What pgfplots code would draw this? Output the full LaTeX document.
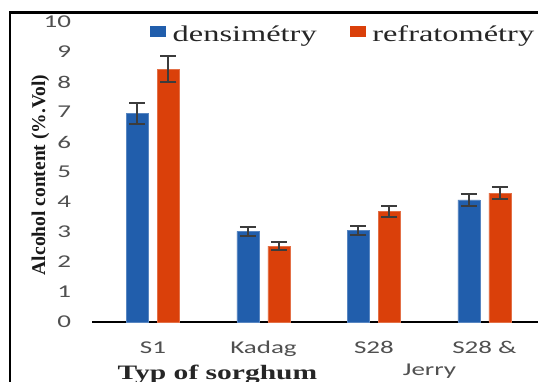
\documentclass[border=0pt]{standalone}
\usepackage{fontspec}
\usepackage{pgfplots}
\pgfplotsset{compat=1.18}
\newfontfamily\tickfont[FakeStretch=1.5]{Carlito}
\newfontfamily\legfont[FakeStretch=1.44]{Liberation Serif}
\newfontfamily\yfont{Liberation Serif}
\definecolor{cblue}{RGB}{33,94,172}
\definecolor{corange}{RGB}{218,64,10}
\definecolor{errc}{RGB}{60,60,60}
\definecolor{tickc}{RGB}{80,80,80}
\begin{document}
\begin{tikzpicture}[x=1pt,y=1pt]
\useasboundingbox (0,0) rectangle (538,381);
\fill[white] (0,0) rectangle (538,381);
\draw[line width=2.5pt] (10,-3) -- (10,368.5) -- (541,368.5);
\begin{axis}[
  at={(92.2pt,59pt)}, anchor=south west,
  scale only axis, width=447.5pt, height=300pt,
  xmin=-0.55, xmax=3.5, ymin=0, ymax=10,
  ybar=9pt, bar width=22pt,
  xtick={0,1,2,3}, xticklabels={S1,Kadag,S28,S28 \&},
  ytick={0,1,...,10},
  axis lines*=left,
  x axis line style={line width=2pt,-},
  y axis line style={draw=none},
  major tick length=0pt,
  /pgf/number format/assume math mode=true,
  yticklabel style={font=\tickfont\fontsize{18}{18}\selectfont, text=tickc, anchor=east, inner sep=0pt, xshift=-21pt},
  xticklabel style={font=\tickfont\fontsize{18}{18}\selectfont, text=tickc, anchor=base, inner sep=0pt, yshift=-31pt},
  legend style={at={(axis description cs:0.129,0.96)}, anchor=west, draw=none, fill=none, inner sep=0pt,
    font=\legfont\fontsize{22.5}{22.5}\selectfont, text=black!85,
    nodes={inner sep=0pt},
    /tikz/every odd column/.append style={column sep=7pt},
    /tikz/every even column/.append style={column sep=33pt}},
  legend columns=2,
  legend cell align=left,
  error bars/y dir=both, error bars/y explicit,
  error bars/error bar style={line width=2pt, errc},
  error bars/error mark options={rotate=90, mark size=8pt, line width=2pt, errc},
]
\addplot[fill=cblue, draw=cblue!75!white, line width=0.6pt,
  legend image code/.code={\fill[cblue] (0pt,-2.5pt) rectangle (15pt,7.5pt);}]
  coordinates {(0,6.95) +- (0,0.35) (1,3.02) +- (0,0.15) (2,3.05) +- (0,0.16) (3,4.07) +- (0,0.2)};
\addlegendentry{densimétry}
\addplot[fill=corange, draw=corange!75!white, line width=0.6pt,
  legend image code/.code={\fill[corange] (0pt,-2.5pt) rectangle (15pt,7.5pt);}]
  coordinates {(0,8.43) +- (0,0.42) (1,2.53) +- (0,0.14) (2,3.69) +- (0,0.19) (3,4.30) +- (0,0.21)};
\addlegendentry{refratométry}
\end{axis}
\node[anchor=base, inner sep=0pt, font=\tickfont\fontsize{18}{18}\selectfont, text=tickc] at (429.5,6) {Jerry};
\node[anchor=base, inner sep=0pt, font=\legfont\bfseries\fontsize{20.5}{20.5}\selectfont, text=black!85] at (217.5,1.5) {Typ of sorghum};
\node[rotate=90, inner sep=0pt, font=\yfont\bfseries\fontsize{19.5}{19.5}\selectfont, text=black!90] at (40.5,206) {Alcohol content (\%.Vol)};
\end{tikzpicture}
\end{document}
